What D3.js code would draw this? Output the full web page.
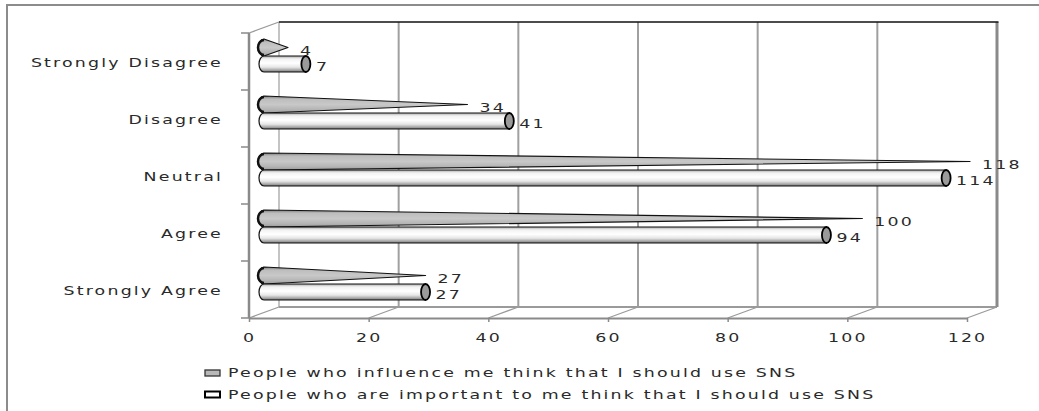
<!DOCTYPE html>
<html>
<head>
<meta charset="utf-8">
<script src="https://cdn.jsdelivr.net/npm/d3@7"></script>
<style>
  body { margin: 0; background: #fff; }
  svg text { font-family: "DejaVu Sans", sans-serif; font-size: 12px; fill: #2a2a2a; letter-spacing: 1.5px; }
</style>
</head>
<body>
<svg id="chart" width="1039" height="411"></svg>
<script>
'use strict';
// data
const categories = ['Strongly Disagree', 'Disagree', 'Neutral', 'Agree', 'Strongly Agree'];
const influence  = [4, 34, 118, 100, 27];
const important  = [7, 41, 114, 94, 27];
const seriesNames = [
  'People who influence me think that I should use SNS',
  'People who are important to me think that I should use SNS'
];
const xTicks = [0, 20, 40, 60, 80, 100, 120];

const svg = d3.select('#chart');
const stretch = 1.45;          // text in the source is drawn wide
const depth = {dx: 30, dy: -11};

let x = d3.scaleLinear().domain([0, 120]).range([249, 967]);
let y = d3.scaleBand().domain(categories).range([33, 318]);
let yIn = d3.scaleBand().domain([0, 1]).range([-17, 17]);

let defs = svg.append('defs');
function grad(id, stops){
  let g = defs.append('linearGradient').attr('id', id)
    .attr('x1', 0).attr('y1', 0).attr('x2', 0).attr('y2', 1);
  stops.forEach(function(s){
    g.append('stop').attr('offset', s[0]).attr('stop-color', s[1]);
  });
}
grad('coneGrad', [[0, '#7a7a7a'], [0.18, '#bdbdbd'], [0.5, '#c8c8c8'], [0.8, '#b4b4b4'], [1, '#9a9a9a']]);
grad('cylGrad', [[0, '#a8a8a8'], [0.18, '#f2f2f2'], [0.45, '#ffffff'], [0.7, '#e6e6e6'], [0.9, '#a0a0a0'], [1, '#6e6e6e']]);

function wideText(parent, tx, ty, str, anchor){
  return parent.append('g')
    .attr('transform', 'translate(' + tx + ',' + ty + ') scale(' + stretch + ',1)')
    .append('text')
    .attr('text-anchor', anchor || 'start')
    .attr('dy', '0.35em')
    .text(str);
}

// outer frame
svg.append('path').attr('d', 'M7,411V5H1039')
  .attr('fill', 'none').attr('stroke', '#8c8c8c').attr('stroke-width', 2);

// back wall
let wall = svg.append('g').attr('transform', 'translate(' + depth.dx + ',' + depth.dy + ')');
wall.selectAll('line.grid').data(xTicks).enter().append('line')
  .attr('class', 'grid')
  .attr('x1', d => x(d)).attr('x2', d => x(d))
  .attr('y1', y.range()[0]).attr('y2', y.range()[1])
  .attr('stroke', d => d === 0 ? '#c4c4c4' : '#a0a0a0')
  .attr('stroke-width', 2);
wall.append('line')
  .attr('x1', x(0)).attr('x2', x(120)).attr('y1', y.range()[1]).attr('y2', y.range()[1])
  .attr('stroke', '#9a9a9a').attr('stroke-width', 2);
wall.append('line')
  .attr('x1', x(120)).attr('x2', x(120)).attr('y1', y.range()[0]).attr('y2', y.range()[1])
  .attr('stroke', '#8a8a8a').attr('stroke-width', 3);
wall.append('line')
  .attr('x1', x(0)).attr('x2', x(120) + 1.5).attr('y1', y.range()[0]).attr('y2', y.range()[0])
  .attr('stroke', '#111').attr('stroke-width', 1.5);

// floor diagonals + left wall top
svg.selectAll('line.floor').data(xTicks).enter().append('line')
  .attr('class', 'floor')
  .attr('x1', d => x(d)).attr('y1', y.range()[1])
  .attr('x2', d => x(d) + depth.dx).attr('y2', y.range()[1] + depth.dy)
  .attr('stroke', '#9a9a9a').attr('stroke-width', 1.3);
svg.append('line')
  .attr('x1', x(0)).attr('y1', y.range()[0])
  .attr('x2', x(0) + depth.dx).attr('y2', y.range()[0] + depth.dy)
  .attr('stroke', '#9a9a9a').attr('stroke-width', 1.3);

// x axis
let xAxis = svg.append('g').attr('transform', 'translate(0,' + y.range()[1] + ')')
  .call(d3.axisBottom(x).tickValues(xTicks).tickSize(4).tickSizeOuter(0));
xAxis.select('.domain').attr('stroke', '#8a8a8a').attr('stroke-width', 2);
xAxis.selectAll('.tick line').attr('stroke', '#8a8a8a').attr('stroke-width', 1.5);
xAxis.selectAll('.tick text')
  .attr('y', 15).attr('transform', 'scale(' + stretch + ',1)')
  .attr('fill', '#2a2a2a').style('font-size', '12px').style('font-family', '"DejaVu Sans", sans-serif');

// y axis (front)
svg.append('line')
  .attr('x1', x(0)).attr('x2', x(0)).attr('y1', y.range()[0]).attr('y2', y.range()[1])
  .attr('stroke', '#8a8a8a').attr('stroke-width', 2.5);
let bounds = categories.map(c => y(c)).concat([y.range()[1]]);
svg.selectAll('line.ytick').data(bounds).enter().append('line')
  .attr('class', 'ytick')
  .attr('x1', x(0) - 8).attr('x2', x(0)).attr('y1', d => d).attr('y2', d => d)
  .attr('stroke', '#8a8a8a').attr('stroke-width', 1.5);
categories.forEach(function(c){
  wideText(svg, 223, y(c) + y.bandwidth() / 2 + 1, c, 'end').attr('fill', '#333');
});

// bars, drawn at mid depth
let x0 = x(0) + depth.dx / 2;
let bars = svg.append('g').attr('transform', 'translate(' + depth.dx / 2 + ',0)');
categories.forEach(function(c, i){
  let cy = y(c) + y.bandwidth() / 2 + depth.dy / 2;

  // cone
  let top = cy + yIn(0), bot = top + yIn.bandwidth(), mid = (top + bot) / 2;
  let xt = x(influence[i]);
  bars.append('path')
    .attr('d', 'M' + x(0) + ',' + top + 'L' + xt + ',' + mid + 'L' + x(0) + ',' + bot +
      'A6,' + (yIn.bandwidth() / 2) + ' 0 0 1 ' + x(0) + ',' + top + 'Z')
    .attr('fill', 'url(#coneGrad)').attr('stroke', '#111').attr('stroke-width', 1.2)
    .attr('stroke-linejoin', 'round');
  bars.append('path')
    .attr('d', 'M' + x(0) + ',' + (top + 1) + 'A6,' + (yIn.bandwidth() / 2 - 1) + ' 0 0 0 ' + x(0) + ',' + (bot - 1))
    .attr('fill', 'none').attr('stroke', '#111').attr('stroke-width', 2.5);
  wideText(svg, xt + depth.dx / 2 + 12, mid + 3.5, String(influence[i]));

  // cylinder
  let ctop = cy + yIn(1), cbot = ctop + yIn.bandwidth() - 1, cmid = (ctop + cbot) / 2;
  let xc = x(important[i]);
  let ry = (cbot - ctop) / 2;
  bars.append('path')
    .attr('d', 'M' + x(0) + ',' + ctop + 'L' + xc + ',' + ctop + 'L' + xc + ',' + cbot +
      'L' + x(0) + ',' + cbot + 'A5,' + ry + ' 0 0 1 ' + x(0) + ',' + ctop + 'Z')
    .attr('fill', 'url(#cylGrad)').attr('stroke', '#111').attr('stroke-width', 1.2);
  bars.append('ellipse')
    .attr('cx', xc).attr('cy', cmid).attr('rx', 4.5).attr('ry', ry)
    .attr('fill', '#9a9a9a').attr('stroke', '#000').attr('stroke-width', 1.8);
  wideText(svg, xc + depth.dx / 2 + 10, cmid + 3, String(important[i]));
});

// legend
let legend = svg.append('g');
seriesNames.forEach(function(name, i){
  let ly = 373 + i * 21.5;
  legend.append('rect')
    .attr('x', 205).attr('y', ly - 3).attr('width', 15).attr('height', 6)
    .attr('fill', i === 0 ? '#b8b8b8' : '#fff')
    .attr('stroke', i === 0 ? '#333' : '#000')
    .attr('stroke-width', i === 0 ? 1.3 : 2);
  wideText(legend, 228, ly, name);
});
</script>
</body>
</html>
